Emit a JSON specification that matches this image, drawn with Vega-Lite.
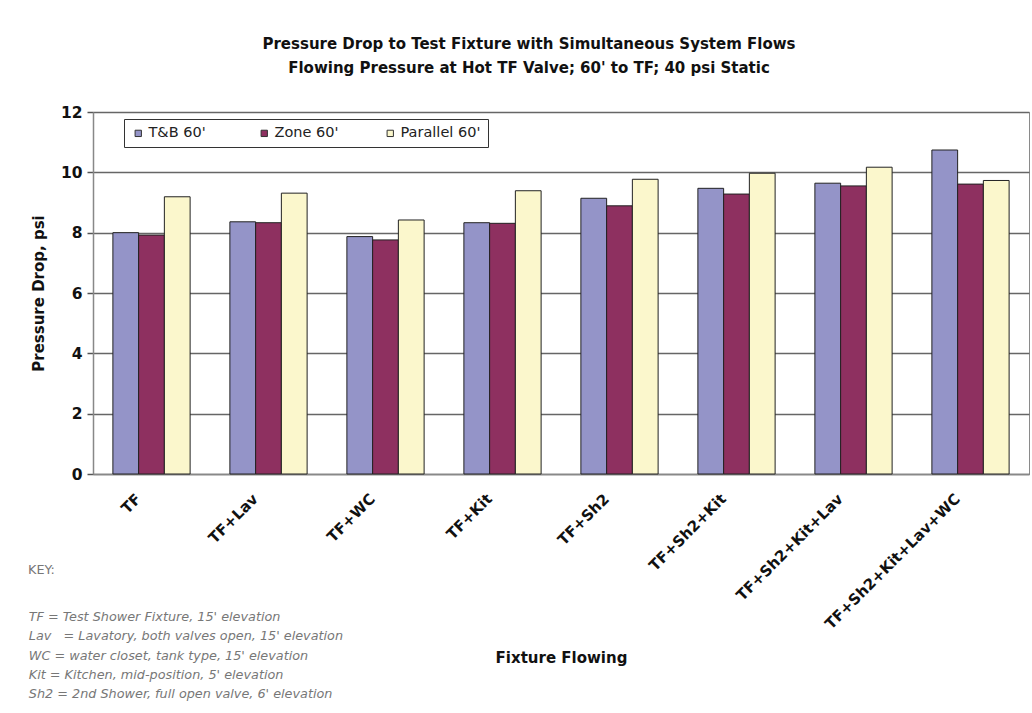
{
  "$schema": "https://vega.github.io/schema/vega-lite/v6.json",
  "autosize": {"type": "none"},
  "padding": {"left": 93, "top": 112, "right": 3, "bottom": 239},
  "width": 936,
  "height": 362,
  "background": "white",
  "config": {
    "font": "DejaVu Sans",
    "view": {"fill": "#c0c0c0", "stroke": "#8a8a8a", "strokeWidth": 1}
  },
  "title": {
    "text": ["Pressure Drop to Test Fixture with Simultaneous System Flows", "Flowing Pressure at Hot TF Valve; 60' to TF; 40 psi Static"],
    "font": "DejaVu Sans",
    "fontSize": 15,
    "fontWeight": "bold",
    "color": "#111",
    "lineHeight": 24,
    "offset": 29,
    "dx": -32
  },
  "layer": [
    {
      "data": {
        "values": [
          {"Fixture": "TF", "Series": "T&B 60'", "Value": 8.0},
          {"Fixture": "TF", "Series": "Zone 60'", "Value": 7.92},
          {"Fixture": "TF", "Series": "Parallel 60'", "Value": 9.19},
          {"Fixture": "TF+Lav", "Series": "T&B 60'", "Value": 8.36},
          {"Fixture": "TF+Lav", "Series": "Zone 60'", "Value": 8.33},
          {"Fixture": "TF+Lav", "Series": "Parallel 60'", "Value": 9.31},
          {"Fixture": "TF+WC", "Series": "T&B 60'", "Value": 7.87},
          {"Fixture": "TF+WC", "Series": "Zone 60'", "Value": 7.76},
          {"Fixture": "TF+WC", "Series": "Parallel 60'", "Value": 8.42},
          {"Fixture": "TF+Kit", "Series": "T&B 60'", "Value": 8.33},
          {"Fixture": "TF+Kit", "Series": "Zone 60'", "Value": 8.31},
          {"Fixture": "TF+Kit", "Series": "Parallel 60'", "Value": 9.39},
          {"Fixture": "TF+Sh2", "Series": "T&B 60'", "Value": 9.14},
          {"Fixture": "TF+Sh2", "Series": "Zone 60'", "Value": 8.89},
          {"Fixture": "TF+Sh2", "Series": "Parallel 60'", "Value": 9.77},
          {"Fixture": "TF+Sh2+Kit", "Series": "T&B 60'", "Value": 9.47},
          {"Fixture": "TF+Sh2+Kit", "Series": "Zone 60'", "Value": 9.28},
          {"Fixture": "TF+Sh2+Kit", "Series": "Parallel 60'", "Value": 9.97},
          {"Fixture": "TF+Sh2+Kit+Lav", "Series": "T&B 60'", "Value": 9.64},
          {"Fixture": "TF+Sh2+Kit+Lav", "Series": "Zone 60'", "Value": 9.55},
          {"Fixture": "TF+Sh2+Kit+Lav", "Series": "Parallel 60'", "Value": 10.17},
          {"Fixture": "TF+Sh2+Kit+Lav+WC", "Series": "T&B 60'", "Value": 10.74},
          {"Fixture": "TF+Sh2+Kit+Lav+WC", "Series": "Zone 60'", "Value": 9.61},
          {"Fixture": "TF+Sh2+Kit+Lav+WC", "Series": "Parallel 60'", "Value": 9.73}
        ]
      },
      "mark": {"type": "bar", "stroke": "#222", "strokeWidth": 1},
      "encoding": {
        "x": {
          "field": "Fixture", "type": "nominal", "sort": null,
          "scale": {"paddingInner": 0.34, "paddingOuter": 0.17},
          "axis": {
            "title": "Fixture Flowing",
            "titleFont": "DejaVu Sans", "titleFontSize": 15, "titleFontWeight": "bold", "titleColor": "#111",
            "titlePadding": 19,
            "labelAngle": -45, "labelAlign": "right", "labelBaseline": "middle",
            "labelFont": "DejaVu Sans", "labelFontSize": 15, "labelFontWeight": "bold", "labelColor": "#111",
            "labelPadding": 22, "labelOffset": -13, "labelLimit": 400,
            "ticks": false, "domainColor": "#888", "domainWidth": 1.5, "grid": false
          }
        },
        "xOffset": {"field": "Series", "type": "nominal", "sort": ["T&B 60'", "Zone 60'", "Parallel 60'"], "scale": {"paddingInner": 0, "paddingOuter": 0}},
        "y": {
          "field": "Value", "type": "quantitative",
          "scale": {"domain": [0, 12], "nice": false},
          "axis": {
            "title": "Pressure Drop, psi",
            "titleFont": "DejaVu Sans", "titleFontSize": 15, "titleFontWeight": "bold", "titleColor": "#111",
            "titlePadding": 14,
            "values": [0, 2, 4, 6, 8, 10, 12],
            "labelFont": "DejaVu Sans", "labelFontSize": 15.5, "labelFontWeight": "bold", "labelColor": "#111",
            "labelPadding": 5,
            "tickSize": 6, "tickColor": "#555", "tickWidth": 1.5,
            "domainColor": "#888", "domainWidth": 1.5,
            "grid": true, "gridColor": "#666", "gridWidth": 1.5
          }
        },
        "color": {
          "field": "Series", "type": "nominal",
          "scale": {"domain": ["T&B 60'", "Zone 60'", "Parallel 60'"], "range": ["#9494c8", "#8e3060", "#fbf7cc"]},
          "legend": {
            "title": null,
            "orient": "none", "legendX": 31, "legendY": 7,
            "direction": "horizontal", "columns": 3, "gridAlign": "all",
            "columnPadding": 28,
            "fillColor": "white", "strokeColor": "#333", "padding": 7,
            "symbolType": "square", "symbolSize": 40, "symbolStrokeColor": "#333", "symbolStrokeWidth": 1,
            "labelFont": "DejaVu Sans", "labelFontSize": 14.5, "labelColor": "#222", "labelOffset": 3
          }
        }
      }
    },
    {
      "data": {
        "values": [
          {"Key": "TF = Test Shower Fixture, 15' elevation"},
          {"Key": "Lav \u00a0 = Lavatory, both valves open, 15' elevation"},
          {"Key": "WC = water closet, tank type, 15' elevation"},
          {"Key": "Kit = Kitchen, mid-position, 5' elevation"},
          {"Key": "Sh2 = 2nd Shower, full open valve, 6' elevation"}
        ]
      },
      "mark": {"type": "point", "opacity": 0},
      "encoding": {
        "shape": {
          "field": "Key", "type": "nominal", "sort": null,
          "legend": {
            "title": "KEY:",
            "orient": "none", "legendX": -65, "legendY": 452,
            "titleFont": "DejaVu Sans", "titleFontSize": 12.8, "titleFontWeight": "normal", "titleColor": "#777",
            "titlePadding": 34,
            "labelFont": "DejaVu Sans", "labelFontSize": 12.8, "labelFontStyle": "italic", "labelColor": "#777",
            "labelLimit": 500, "labelOffset": -12,
            "symbolSize": 1, "symbolOpacity": 0, "symbolStrokeWidth": 0,
            "rowPadding": 5.2
          }
        }
      }
    }
  ]
}
